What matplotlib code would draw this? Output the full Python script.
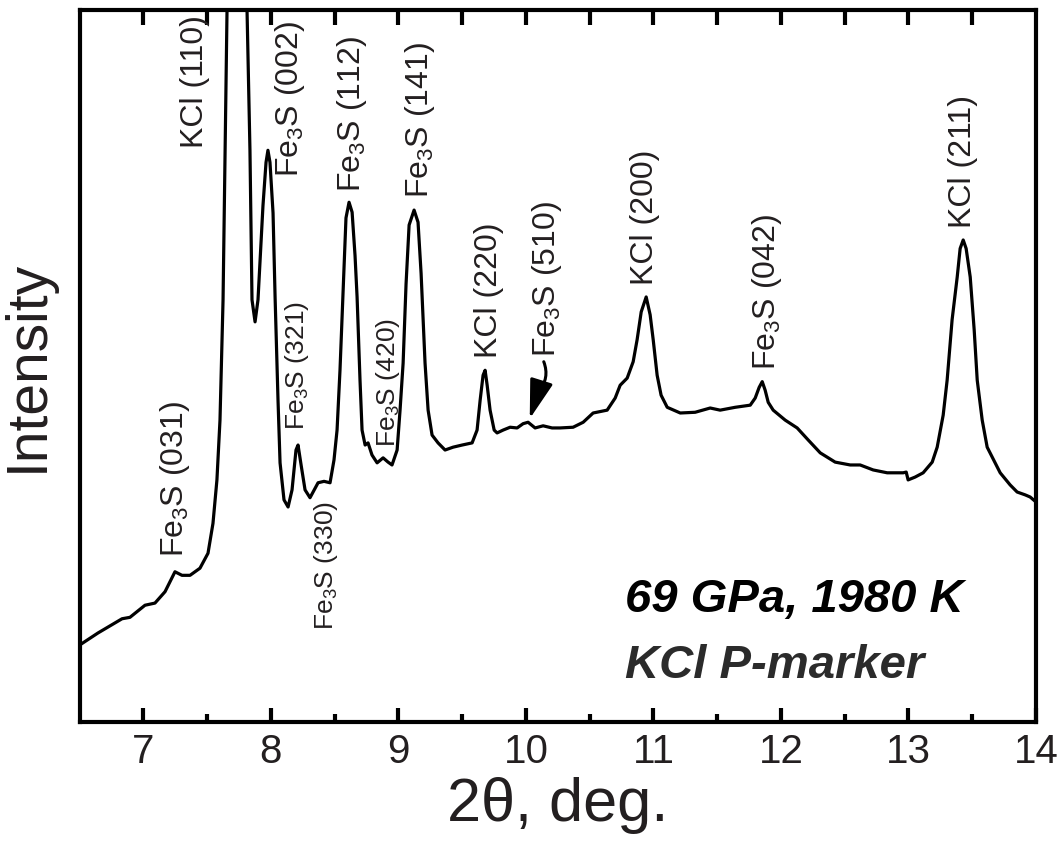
import matplotlib
matplotlib.use("Agg")
import matplotlib.pyplot as plt
import numpy as np

plt.rcParams["font.family"] = ["Liberation Sans", "DejaVu Sans"]
plt.rcParams["mathtext.fontset"] = "custom"
plt.rcParams["mathtext.rm"] = "Liberation Sans"
plt.rcParams["mathtext.it"] = "Liberation Sans:italic"
plt.rcParams["mathtext.bf"] = "Liberation Sans:bold"

# Diffraction pattern (2-theta in degrees, intensity in arbitrary units)
two_theta = [
    6.500, 6.644, 6.833, 6.895, 7.013, 7.091, 7.170, 7.248, 7.303, 7.366,
    7.444, 7.507, 7.546, 7.577, 7.601, 7.625, 7.656, 7.695, 7.735, 7.774,
    7.813, 7.836, 7.852, 7.876, 7.899, 7.938, 7.962, 7.977, 7.993, 8.017,
    8.033, 8.056, 8.072, 8.103, 8.135, 8.166, 8.197, 8.213, 8.237, 8.268,
    8.307, 8.370, 8.417, 8.464, 8.495, 8.519, 8.542, 8.566, 8.589, 8.613,
    8.637, 8.660, 8.676, 8.699, 8.715, 8.739, 8.762, 8.793, 8.833, 8.880,
    8.919, 8.950, 8.990, 9.013, 9.037, 9.060, 9.084, 9.123, 9.154, 9.178,
    9.209, 9.233, 9.264, 9.311, 9.366, 9.429, 9.500, 9.578, 9.617, 9.641,
    9.664, 9.680, 9.696, 9.719, 9.751, 9.774, 9.821, 9.876, 9.931, 9.978,
    10.017, 10.072, 10.135, 10.205, 10.268, 10.370, 10.449, 10.527, 10.637, 10.700,
    10.739, 10.794, 10.841, 10.872, 10.904, 10.943, 10.974, 10.998, 11.029, 11.060,
    11.108, 11.210, 11.327, 11.445, 11.523, 11.641, 11.759, 11.798, 11.829, 11.853,
    11.876, 11.900, 11.939, 12.033, 12.127, 12.214, 12.308, 12.425, 12.543, 12.621,
    12.723, 12.833, 12.958, 12.982, 12.997, 13.052, 13.115, 13.186, 13.225, 13.272,
    13.303, 13.342, 13.382, 13.405, 13.429, 13.452, 13.484, 13.515, 13.539, 13.578,
    13.617, 13.719, 13.797, 13.852, 13.915, 13.954, 14.000,
]
intensity = [
    10.8, 12.5, 14.5, 14.7, 16.4, 16.7, 18.3, 21.1, 20.6, 20.6,
    21.6, 23.7, 27.9, 34.0, 42.4, 59.3, 100.0, 143.5, 199.7, 143.5,
    100.0, 80.3, 59.3, 56.2, 59.3, 72.5, 78.6, 80.3, 78.6, 71.5,
    59.7, 45.2, 36.4, 31.2, 30.2, 32.6, 38.2, 38.9, 36.1, 32.6,
    31.5, 33.6, 33.8, 33.6, 36.8, 41.0, 49.4, 60.5, 70.8, 73.0,
    71.6, 65.5, 59.7, 48.0, 41.0, 38.9, 39.2, 37.5, 36.4, 37.1,
    36.5, 36.1, 38.2, 43.8, 50.4, 61.5, 69.8, 71.9, 70.2, 63.0,
    50.4, 43.8, 40.3, 39.2, 38.2, 38.6, 38.9, 39.2, 41.0, 45.2,
    48.7, 49.4, 47.3, 43.8, 41.0, 40.6, 41.0, 41.4, 41.3, 41.9,
    42.1, 41.3, 41.6, 41.3, 41.3, 41.4, 42.1, 43.4, 43.8, 45.5,
    47.3, 48.3, 50.6, 53.7, 57.6, 59.7, 57.2, 53.7, 48.7, 45.9,
    44.2, 43.4, 43.5, 44.1, 43.8, 44.2, 44.5, 45.5, 47.0, 47.8,
    46.6, 44.9, 43.8, 42.4, 41.3, 39.6, 37.8, 36.5, 36.1, 36.1,
    35.4, 35.0, 35.0, 35.1, 34.0, 34.4, 35.0, 36.5, 38.6, 43.1,
    48.0, 56.5, 62.5, 66.5, 67.7, 66.5, 62.5, 55.1, 48.0, 42.4,
    38.6, 35.0, 33.3, 32.3, 31.9, 31.6, 30.9,
]

# Reflection labels: text, x position, y of text base
peak_labels = [
    r"Fe$_3$S (031)", r"KCl (110)", r"Fe$_3$S (002)", r"Fe$_3$S (112)",
    r"Fe$_3$S (141)", r"KCl (220)", r"Fe$_3$S (510)", r"KCl (200)",
    r"Fe$_3$S (042)", r"KCl (211)",
]
peak_label_x = [7.248, 7.405, 8.150, 8.637, 9.170, 9.711, 10.167, 10.935, 11.890, 13.430]
peak_label_y = [23.2, 80.6, 76.5, 74.4, 73.6, 51.1, 51.3, 61.4, 49.4, 69.4]

minor_labels = [r"Fe$_3$S (321)", r"Fe$_3$S (330)", r"Fe$_3$S (420)"]
minor_label_x = [8.206, 8.433, 8.919]
minor_label_y = [41.0, 12.9, 38.6]

x_ticks = [7, 8, 9, 10, 11, 12, 13, 14]

text_color = "#231f20"

fig = plt.figure(figsize=(10.64, 8.49), dpi=100)
ax = fig.add_axes([0.0748, 0.1496, 0.8989, 0.8386])

ax.plot(two_theta, intensity, color="black", lw=2.3,
        solid_joinstyle="round", solid_capstyle="round")

ax.set_xlim(6.5, 14)
ax.set_ylim(0, 100)

for s in ax.spines.values():
    s.set_linewidth(3.0)
    s.set_color("black")

ax.set_xticks(x_ticks)
ax.set_xticks(np.arange(7.5, 14, 1.0), minor=True)
ax.set_yticks([])
ax.tick_params(axis="x", which="major", direction="in", length=10, width=3,
               labelsize=29, labelcolor=text_color, pad=8, color="black")
ax.tick_params(axis="x", which="minor", direction="in", length=5.5, width=3,
               color="black")

top = ax.secondary_xaxis("top")
top.set_xticks(np.arange(7.0, 14.0, 0.5))
top.set_xticklabels([])
top.tick_params(direction="in", length=10.5, width=3, color="black")
top.spines["top"].set_visible(False)

ax.set_xlabel("2θ, deg.", fontsize=44, color=text_color, labelpad=4)
ax.set_ylabel("Intensity", fontsize=41, color=text_color, labelpad=18)

for t, x, y in zip(peak_labels, peak_label_x, peak_label_y):
    ax.text(x, y, t, rotation=90, ha="center", va="bottom",
            fontsize=23, color=text_color, clip_on=False)

for t, x, y in zip(minor_labels, minor_label_x, minor_label_y):
    ax.text(x, y, t, rotation=90, ha="center", va="bottom",
            fontsize=19, color=text_color)

# Arrow pointing to the weak Fe3S (510) reflection: curved stem plus head
ax.annotate("", xy=(10.098, 46.4), xytext=(10.140, 50.6),
            arrowprops=dict(arrowstyle="-", color="black", lw=2.2,
                            connectionstyle="arc3,rad=-0.3",
                            shrinkA=0, shrinkB=0))
ax.annotate("", xy=(10.030, 42.6), xytext=(10.100, 46.6),
            arrowprops=dict(arrowstyle="-|>,head_length=0.8,head_width=0.24",
                            color="black", lw=2.2, mutation_scale=30,
                            shrinkA=0, shrinkB=0))

ax.text(10.778, 15.4, "69 GPa, 1980 K", fontsize=34, fontweight="bold",
        fontstyle="italic", color="black", ha="left", va="baseline")
ax.text(10.778, 6.2, "KCl P-marker", fontsize=34, fontweight="bold",
        fontstyle="italic", color="#2b2b2b", ha="left", va="baseline")

fig.savefig("out.png", dpi=100)
